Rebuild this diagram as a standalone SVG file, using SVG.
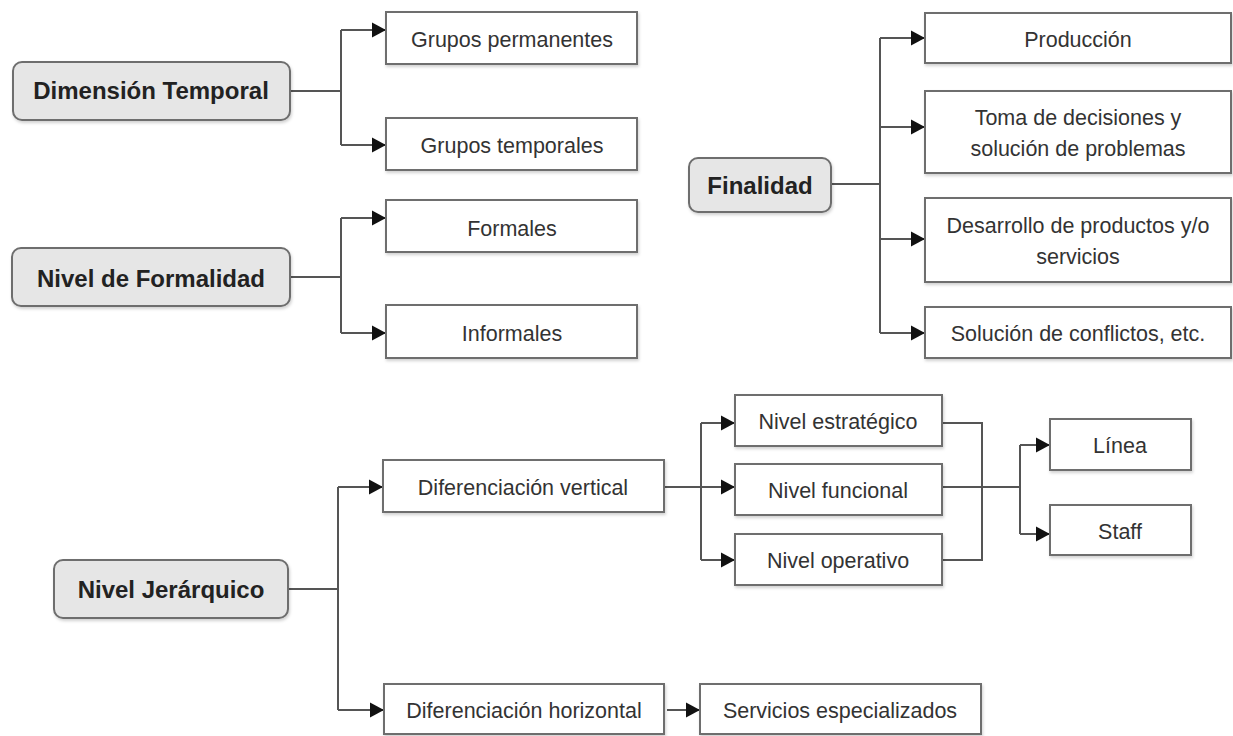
<svg xmlns="http://www.w3.org/2000/svg" width="1233" height="736" viewBox="0 0 1233 736">
<defs>
<marker id="arr" markerUnits="userSpaceOnUse" markerWidth="16" markerHeight="16" refX="14" refY="8" orient="auto">
<path d="M0,0.5 L14,8 L0,15.5 z" fill="#111"/>
</marker>
<filter id="sh" x="-5%" y="-10%" width="110%" height="130%">
<feDropShadow dx="1" dy="2" stdDeviation="1.5" flood-color="#000" flood-opacity="0.18"/>
</filter>
<style>
.main rect{fill:#e6e6e6;stroke:#6e6e6e;stroke-width:2;filter:url(#sh)}
.sub rect{fill:#fff;stroke:#6e6e6e;stroke-width:2;filter:url(#sh)}
.main text{font-family:"Liberation Sans",Arial,sans-serif;font-weight:bold;font-size:24px;fill:#222;text-anchor:middle}
.sub text{font-family:"Liberation Sans",Arial,sans-serif;font-size:21.5px;fill:#333;text-anchor:middle}
#connectors path{fill:none;stroke:#555;stroke-width:2}
#connectors .a{marker-end:url(#arr)}
</style>
</defs>
<rect width="1233" height="736" fill="#fff"/>

<g id="connectors">
<path d="M290,91 H341 M341,30 V145"/>
<path class="a" d="M341,30 H386"/>
<path class="a" d="M341,145 H386"/>
<path d="M290,277 H341 M341,218 V333"/>
<path class="a" d="M341,218 H386"/>
<path class="a" d="M341,333 H386"/>
<path d="M831,184 H880 M880,38 V333"/>
<path class="a" d="M880,38 H925"/>
<path class="a" d="M880,127 H925"/>
<path class="a" d="M880,239 H925"/>
<path class="a" d="M880,333 H925"/>
<path d="M288,589 H338 M338,487 V710"/>
<path class="a" d="M338,487 H383"/>
<path class="a" d="M338,710 H384"/>
<path d="M664,487 H701 M701,423 V560"/>
<path class="a" d="M701,423 H735"/>
<path class="a" d="M701,487 H735"/>
<path class="a" d="M701,560 H735"/>
<path d="M942,423 H982 V560 H942 M942,487 H1020 M1020,445 V534"/>
<path class="a" d="M1020,445 H1050"/>
<path class="a" d="M1020,534 H1050"/>
<path class="a" d="M667,710 H700"/>
</g>

<g id="dimension-temporal" class="main"><rect x="13" y="62" width="277" height="58" rx="9"/><text x="151" y="99">Dimensión Temporal</text></g>
<g id="grupos-permanentes" class="sub"><rect x="386" y="12" width="251" height="52"/><text x="512" y="47">Grupos permanentes</text></g>
<g id="grupos-temporales" class="sub"><rect x="386" y="118" width="251" height="52"/><text x="512" y="153">Grupos temporales</text></g>

<g id="nivel-formalidad" class="main"><rect x="12" y="248" width="278" height="58" rx="9"/><text x="151" y="287">Nivel de Formalidad</text></g>
<g id="formales" class="sub"><rect x="386" y="200" width="251" height="52"/><text x="512" y="236">Formales</text></g>
<g id="informales" class="sub"><rect x="386" y="305" width="251" height="53"/><text x="512" y="341">Informales</text></g>

<g id="finalidad" class="main"><rect x="689" y="158" width="142" height="54" rx="9"/><text x="760" y="194">Finalidad</text></g>
<g id="produccion" class="sub"><rect x="925" y="13" width="306" height="50"/><text x="1078" y="47">Producción</text></g>
<g id="toma-decisiones" class="sub"><rect x="925" y="91" width="306" height="82"/><text x="1078" y="125">Toma de decisiones y</text><text x="1078" y="156">solución de problemas</text></g>
<g id="desarrollo" class="sub"><rect x="925" y="198" width="306" height="84"/><text x="1078" y="233">Desarrollo de productos y/o</text><text x="1078" y="264">servicios</text></g>
<g id="solucion-conflictos" class="sub"><rect x="925" y="307" width="306" height="51"/><text x="1078" y="341">Solución de conflictos, etc.</text></g>

<g id="nivel-jerarquico" class="main"><rect x="54" y="560" width="234" height="58" rx="9"/><text x="171" y="598">Nivel Jerárquico</text></g>
<g id="dif-vertical" class="sub"><rect x="383" y="460" width="281" height="52"/><text x="523" y="495">Diferenciación vertical</text></g>
<g id="dif-horizontal" class="sub"><rect x="384" y="684" width="280" height="50"/><text x="524" y="718">Diferenciación horizontal</text></g>
<g id="servicios-especializados" class="sub"><rect x="700" y="684" width="281" height="50"/><text x="840" y="718">Servicios especializados</text></g>
<g id="nivel-estrategico" class="sub"><rect x="735" y="395" width="207" height="51"/><text x="838" y="429">Nivel estratégico</text></g>
<g id="nivel-funcional" class="sub"><rect x="735" y="464" width="207" height="51"/><text x="838" y="498">Nivel funcional</text></g>
<g id="nivel-operativo" class="sub"><rect x="735" y="534" width="207" height="51"/><text x="838" y="568">Nivel operativo</text></g>
<g id="linea" class="sub"><rect x="1050" y="419" width="141" height="51"/><text x="1120" y="453">Línea</text></g>
<g id="staff" class="sub"><rect x="1050" y="505" width="141" height="50"/><text x="1120" y="539">Staff</text></g>
</svg>
